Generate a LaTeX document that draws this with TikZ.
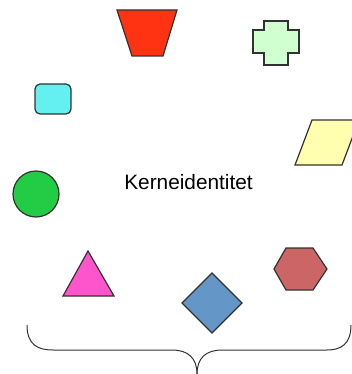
\documentclass[tikz,border=0pt]{standalone}
\usepackage{fontspec}
\setmainfont{Liberation Sans}
\definecolor{cRed}{RGB}{255,51,17}
\definecolor{cCross}{RGB}{208,255,208}
\definecolor{cCyan}{RGB}{100,240,240}
\definecolor{cYellow}{RGB}{255,255,175}
\definecolor{cGreen}{RGB}{34,204,68}
\definecolor{cMagenta}{RGB}{255,85,204}
\definecolor{cBlue}{RGB}{100,150,200}
\definecolor{cHex}{RGB}{204,102,102}
\definecolor{cLine}{RGB}{50,50,50}
\begin{document}
\begin{tikzpicture}[x=1pt,y=-1pt,
  shp/.style={draw=cLine,line width=1.2pt,line join=miter},
  bracestyle/.style={draw=cLine,line width=1pt}]
\useasboundingbox (0,0) rectangle (352,374);
\begin{scope}
\clip (0,0) rectangle (352,374);
% trapezoid
\draw[shp,fill=cRed] (117,10) -- (177,10) -- (163,56) -- (132,56) -- cycle;
% cross
\draw[shp,fill=cCross] (264,21) -- (288,21) -- (288,30) -- (299,30) -- (299,53) -- (288,53) -- (288,65) -- (264,65) -- (264,53) -- (253,53) -- (253,30) -- (264,30) -- cycle;
% rounded square
\draw[shp,fill=cCyan,rounded corners=5pt] (35,84) rectangle (71,114);
% parallelogram
\draw[shp,fill=cYellow] (312,120) -- (359,120) -- (342,165) -- (295,165) -- cycle;
% circle
\draw[shp,fill=cGreen] (36,194) circle (23);
% triangle
\draw[shp,fill=cMagenta] (88,251) -- (114,296) -- (63,296) -- cycle;
% diamond
\draw[shp,fill=cBlue] (212,273) -- (242,303) -- (212,333) -- (182,303) -- cycle;
% hexagon
\draw[shp,fill=cHex] (286,248) -- (313,248) -- (327,269) -- (313,290) -- (286,290) -- (274,269) -- cycle;
% brace
\coordinate (bl) at (27,325);
\coordinate (br) at (351,325);
\coordinate (tip) at (197,374);
\draw[bracestyle] (bl) .. controls (27,345) and (38,350) .. (53,350)
  -- (172,350) .. controls (188,350) and (197,358) .. (tip);
\draw[bracestyle] (br) .. controls (351,345) and (340,350) .. (327,350)
  -- (222,350) .. controls (206,350) and (197,358) .. (tip);
\end{scope}
\node[font=\fontsize{20.8}{25}\selectfont, inner sep=0pt] (label) at (188.5,182) {Kerneidentitet};
\end{tikzpicture}
\end{document}
